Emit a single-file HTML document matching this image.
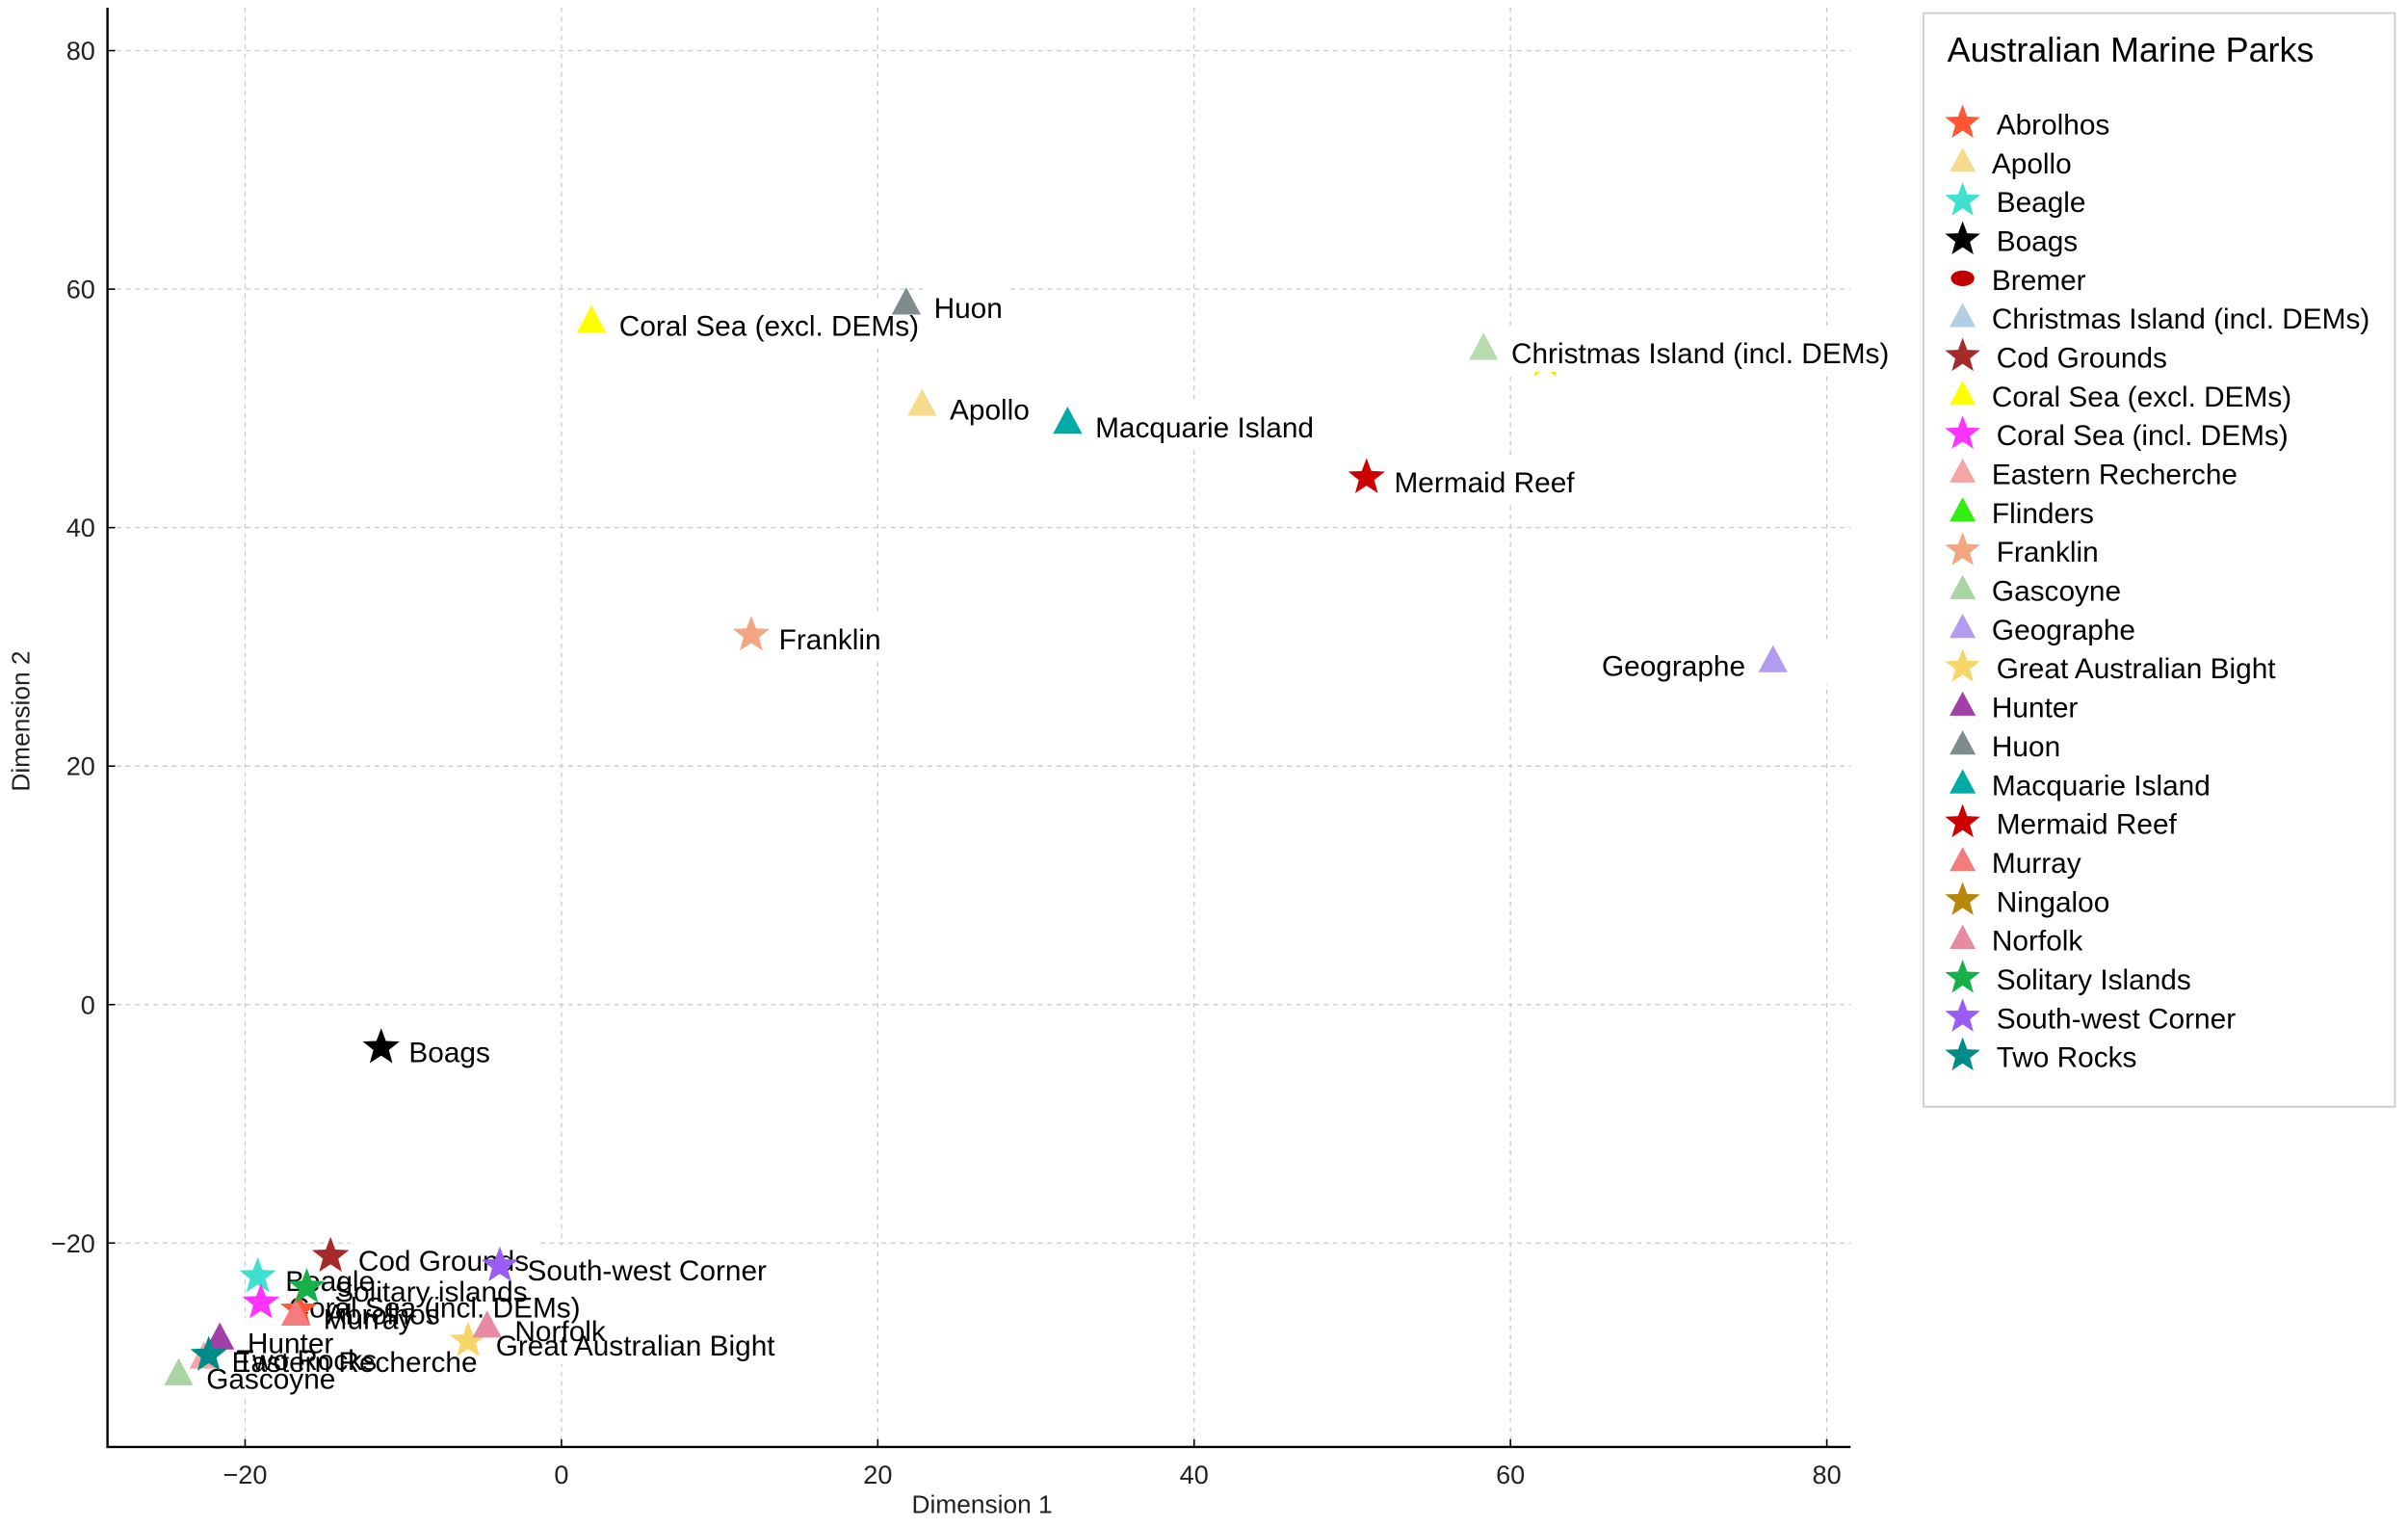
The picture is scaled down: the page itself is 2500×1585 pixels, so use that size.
<!DOCTYPE html>
<html><head><meta charset="utf-8"><style>
html,body{margin:0;padding:0;background:#fff;}
svg{display:block;font-family:"Liberation Sans",sans-serif;}
</style></head><body>
<svg id="chart" width="2500" height="1585" viewBox="0 0 1568 994.1" xmlns="http://www.w3.org/2000/svg">
<g id="grid"></g>
<g id="boxes"></g>
<g id="labels"></g>
<g id="marks"></g>
<g id="axes"></g>
<g id="legend"></g>
</svg>
<script>
const names = ["Abrolhos","Apollo","Beagle","Boags","Bremer","Christmas Island (incl. DEMs)","Cod Grounds","Coral Sea (excl. DEMs)","Coral Sea (incl. DEMs)","Eastern Recherche","Flinders","Franklin","Gascoyne","Geographe","Great Australian Bight","Hunter","Huon","Macquarie Island","Mermaid Reef","Murray","Ningaloo","Norfolk","Solitary Islands","South-west Corner","Two Rocks"];
const plotLabels = ["Abrolhos","Apollo","Beagle","Boags","","Christmas Island (incl. DEMs)","Cod Grounds","Coral Sea (excl. DEMs)","Coral Sea (incl. DEMs)","Eastern Recherche","","Franklin","Gascoyne","Geographe","Great Australian Bight","Hunter","Huon","Macquarie Island","Mermaid Reef","Murray","","Norfolk","Solitary islands","South-west Corner","Two Rocks"];
const dim1 = [-16.6,22.8,-19.2,-11.4,null,58.3,-14.6,1.9,-19.0,-22.6,null,12.0,-24.2,76.6,-5.9,-21.6,21.8,32.0,50.9,-16.8,62.2,-4.7,-16.1,-3.9,-22.3];
const dim2 = [-25.6,50.3,-22.8,-3.6,null,55.0,-21.1,57.3,-25.0,-29.6,null,31.0,-31.0,28.8,-28.2,-28.0,58.8,48.8,44.2,-26.0,54.0,-27.0,-23.7,-21.9,-29.4];
const shapes = ["star","tri","star","star","circ","tri","star","tri","star","tri","tri","star","tri","tri","star","tri","tri","tri","star","tri","star","tri","star","star","star"];
const colors = ["#ff5733","#f5dc8c","#40e0d0","#000000","#c00000","#b3cde3","#a52a2a","#ffff00","#ff33ff","#f4a6a6","#33ee11","#f4a582","#a8d5a2","#b19cf0","#f8d568","#a040a8","#7f8c8d","#00aaa5","#cc0000","#f47c7c","#b8860b","#e88aa0","#17b14a","#9b5cf6","#008b8b"];
const plotColors = ["#ff5733","#f5dc8c","#40e0d0","#000000","#c00000","#b8dcb0","#a52a2a","#ffff00","#ff33ff","#f4a6a6","#33ee11","#f4a582","#a8d5a2","#b19cf0","#f8d568","#a040a8","#7f8c8d","#00aaa5","#cc0000","#f47c7c","#ffe000","#e88aa0","#17b14a","#9b5cf6","#008b8b"];
const xTicks = [-20,0,20,40,60,80];
const yTicks = [-20,0,20,40,60,80];
const xTickLabels = ["\u221220","0","20","40","60","80"];
const yTickLabels = ["\u221220","0","20","40","60","80"];

const NS="http://www.w3.org/2000/svg";
const L=70,R=1205,T=5,B=942;
const xMin=-28.7,xMax=81.5,yMin=-37.1,yMax=83.6;
const sx=v=>L+(v-xMin)/(xMax-xMin)*(R-L);
const sy=v=>B-(v-yMin)/(yMax-yMin)*(B-T);
function mk(tag,attrs,parent){const e=document.createElementNS(NS,tag);for(const k in attrs)e.setAttribute(k,attrs[k]);parent.appendChild(e);return e;}
function starPts(cx,cy,r){let p=[];for(let i=0;i<10;i++){const a=-Math.PI/2+i*Math.PI/5;const rr=i%2?r*0.42:r;p.push((cx+rr*Math.cos(a)).toFixed(2)+","+(cy+rr*Math.sin(a)).toFixed(2));}return p.join(" ");}
function marker(shape,cx,cy,color,size,parent){
  let e;
  if(shape==="star") e=mk("polygon",{points:starPts(cx,cy,size*0.6),fill:color},parent);
  else if(shape==="tri") e=mk("polygon",{points:`${cx},${cy-size*0.55} ${cx-size*0.5},${cy+size*0.38} ${cx+size*0.5},${cy+size*0.38}`,fill:color},parent);
  else e=mk("ellipse",{cx:cx,cy:cy,rx:size*0.45,ry:size*0.3,fill:color},parent);
  return e;
}
const grid=document.getElementById("grid"),axes=document.getElementById("axes");
xTicks.forEach((t,i)=>{
  const x=sx(t);
  const g=mk("line",{x1:x,x2:x,y1:T,y2:B,stroke:"#c8c8c8","stroke-width":0.8,"stroke-dasharray":"3,3"},grid);
  
  
  const tk=mk("line",{x1:x,x2:x,y1:B,y2:B-5,stroke:"#000","stroke-width":1},axes);
  
  
  const tx=mk("text",{x:x,y:B+24,"text-anchor":"middle","font-size":17,fill:"#222"},axes);
  tx.textContent=xTickLabels[i];
  
  
});
yTicks.forEach((t,i)=>{
  const y=sy(t);
  const g=mk("line",{x1:L,x2:R,y1:y,y2:y,stroke:"#c8c8c8","stroke-width":0.8,"stroke-dasharray":"3,3"},grid);
  
  
  const tk=mk("line",{x1:L,x2:L+5,y1:y,y2:y,stroke:"#000","stroke-width":1},axes);
  
  
  const tx=mk("text",{x:L-8,y:y+6,"text-anchor":"end","font-size":17,fill:"#222"},axes);
  tx.textContent=yTickLabels[i];
  
  
});
const sp=mk("path",{d:`M${L},${T} L${L},${B} L${R},${B}`,stroke:"#000","stroke-width":1.5,fill:"none"},axes);


const xt=mk("text",{x:(L+R)/2+2,y:B+43,"text-anchor":"middle","font-size":16.5,fill:"#222"},axes);
xt.textContent="Dimension 1";


const yt=mk("text",{x:0,y:0,"text-anchor":"middle","font-size":16.5,fill:"#222",transform:`translate(19,${(T+B)/2-4}) rotate(-90)`},axes);
yt.textContent="Dimension 2";



const boxes=document.getElementById("boxes"),labels=document.getElementById("labels"),marks=document.getElementById("marks");
names.forEach((n,i)=>{
  if(dim1[i]===null) return;
  const cx=sx(dim1[i]),cy=sy(dim2[i]);
  const parent=(n==="Ningaloo")?grid:marks;
  const m=marker(shapes[i],cx,cy,plotColors[i],shapes[i]==="star"?21:19,parent);
  
  
  const lab=plotLabels[i];
  if(!lab) return;
  const left=(n==="Geographe");
  const tx=left?cx-18:cx+18, ty=cy+9.5;
  const t=mk("text",{x:tx,y:ty,"font-size":18.7,fill:"#000","text-anchor":left?"end":"start"},labels);
  t.textContent=lab;
  
  
  const w=t.getComputedTextLength();
  const bx=left?tx-w-5:tx-5;
  const r=mk("rect",{x:bx,y:cy-13,width:w+(left?62:10),height:28,fill:"#fff"},boxes);
  
  
});

const leg=document.getElementById("legend");
const lb=mk("rect",{x:1252.5,y:8.5,width:307,height:712,fill:"#fff",stroke:"#cfcfcf","stroke-width":1.2},leg);


const lt=mk("text",{x:1268,y:40,"font-size":22.5,fill:"#000"},leg);
lt.textContent="Australian Marine Parks";


names.forEach((n,i)=>{
  const y=81+i*25.3;
  const g=mk("g",{},leg);
  
  
  marker(shapes[i],1278,y-1,colors[i],shapes[i]==="star"?20:17,g);
  const t=mk("text",{x:shapes[i]==="star"?1300:1297,y:y+6.5,"font-size":18.7,fill:"#000"},g);
  t.textContent=n;
});
</script>
</body></html>
